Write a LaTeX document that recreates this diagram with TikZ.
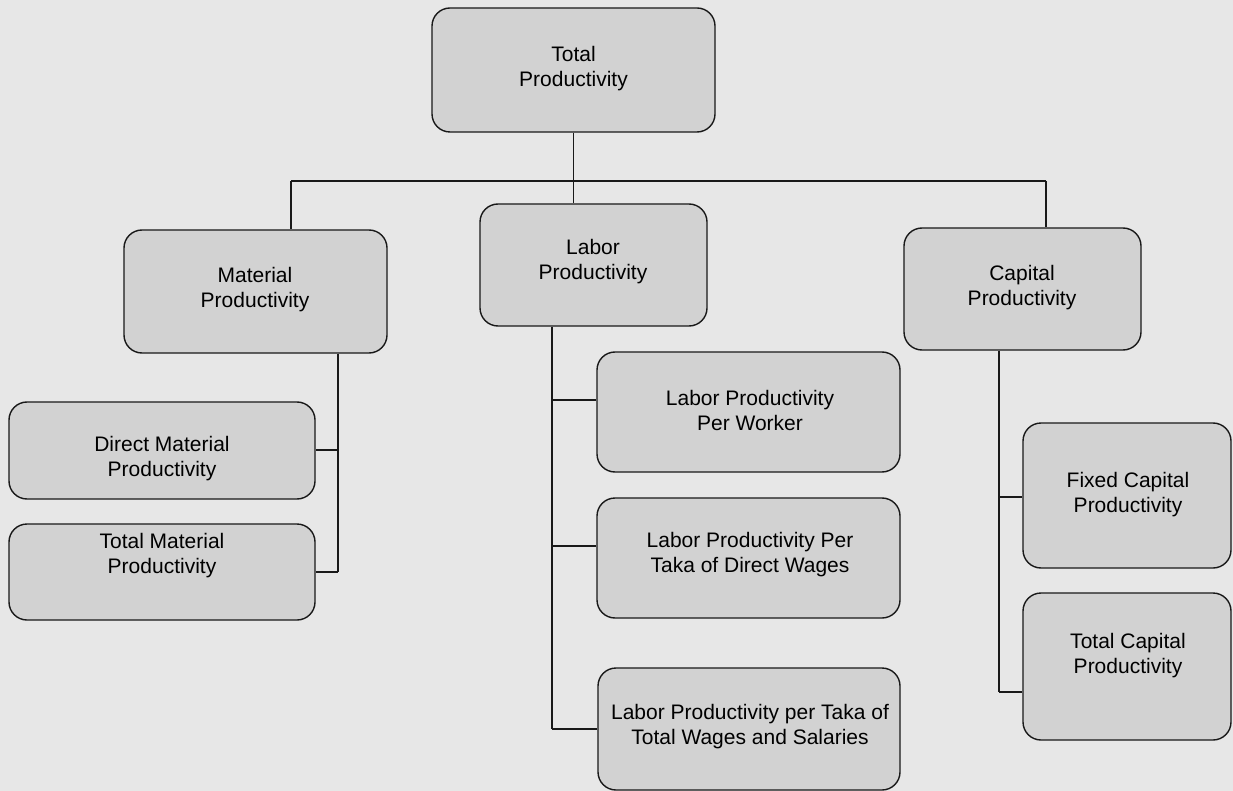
\documentclass[tikz,border=0pt]{standalone}
\usepackage{fontspec}
\setmainfont{Liberation Sans}
\definecolor{bg}{RGB}{231,231,231}
\definecolor{boxfill}{RGB}{210,210,210}
\definecolor{ink}{RGB}{25,25,25}
\newcommand{\lblfont}{\fontsize{21}{25}\selectfont}
\tikzset{
  pbox/.style={draw=ink, line width=1.4pt, fill=boxfill, rounded corners=18pt, inner sep=0pt},
  ptxt/.style={align=center, font=\lblfont, inner sep=0pt, text=black},
  conn/.style={draw=ink, line width=1.4pt},
}
\begin{document}
\begin{tikzpicture}[x=1pt,y=-1pt]
\useasboundingbox (0,0) rectangle (1233,791);
\fill[bg] (0,0) rectangle (1233,791);

% boxes
\node[pbox, minimum width=283pt, minimum height=124pt] (tp) at (573.5,70) {};
\node[pbox, minimum width=263pt, minimum height=123pt] (mp) at (255.5,291.5) {};
\node[pbox, minimum width=227pt, minimum height=122pt] (lp) at (593.5,265) {};
\node[pbox, minimum width=237pt, minimum height=122pt] (cp) at (1022.5,289) {};
\node[pbox, minimum width=306pt, minimum height=97pt] (dm) at (162,450.5) {};
\node[pbox, minimum width=306pt, minimum height=96pt] (tm) at (162,572) {};
\node[pbox, minimum width=303pt, minimum height=120pt] (pw) at (748.5,412) {};
\node[pbox, minimum width=303pt, minimum height=120pt] (dw) at (748.5,558) {};
\node[pbox, minimum width=302pt, minimum height=122pt] (tw) at (749,729) {};
\node[pbox, minimum width=208pt, minimum height=145pt] (fc) at (1127,495.5) {};
\node[pbox, minimum width=208pt, minimum height=147pt] (tc) at (1127,666.5) {};

% texts
\node[ptxt] (tpt) at (573.5,69) {Total\\Productivity};
\node[ptxt] (mpt) at (255,290) {Material\\Productivity};
\node[ptxt] (lpt) at (593,262) {Labor\\Productivity};
\node[ptxt] (cpt) at (1022,288) {Capital\\Productivity};
\node[ptxt] (dmt) at (162,459) {Direct Material\\Productivity};
\node[ptxt] (tmt) at (162,556) {Total Material\\Productivity};
\node[ptxt] (pwt) at (750,410) {Labor Productivity\\Per Worker};
\node[ptxt] (dwt) at (750,555) {Labor Productivity Per\\Taka of Direct Wages};
\node[ptxt] (twt) at (750,727) {Labor Productivity per Taka of\\Total Wages and Salaries};
\node[ptxt] (fct) at (1128,495) {Fixed Capital\\Productivity};
\node[ptxt] (tct) at (1128,656) {Total Capital\\Productivity};

% junction coordinates
\coordinate (busL) at (291,181);
\coordinate (busR) at (1046,181);
\coordinate (mx) at (338,0);
\coordinate (lx) at (552,0);
\coordinate (cx) at (999,0);
\coordinate (m1) at (338,450);
\coordinate (m2) at (338,572);
\coordinate (l1) at (552,400);
\coordinate (l2) at (552,546);
\coordinate (l3) at (552,729);
\coordinate (c1) at (999,497);
\coordinate (c2) at (999,692);

% connectors
\draw[conn] (tp.south) -- (tp.south |- lp.north);
\draw[conn] (busL) -- (busR);
\draw[conn] (busL) -- (busL |- mp.north);
\draw[conn] (busR) -- (busR |- cp.north);

\draw[conn] (mx |- mp.south) -- (m2);
\draw[conn] (m1) -- (m1 -| dm.east);
\draw[conn] (m2) -- (m2 -| tm.east);

\draw[conn] (lx |- lp.south) -- (l3);
\draw[conn] (l1) -- (l1 -| pw.west);
\draw[conn] (l2) -- (l2 -| dw.west);
\draw[conn] (l3) -- (l3 -| tw.west);

\draw[conn] (cx |- cp.south) -- (c2);
\draw[conn] (c1) -- (c1 -| fc.west);
\draw[conn] (c2) -- (c2 -| tc.west);
\end{tikzpicture}
\end{document}
